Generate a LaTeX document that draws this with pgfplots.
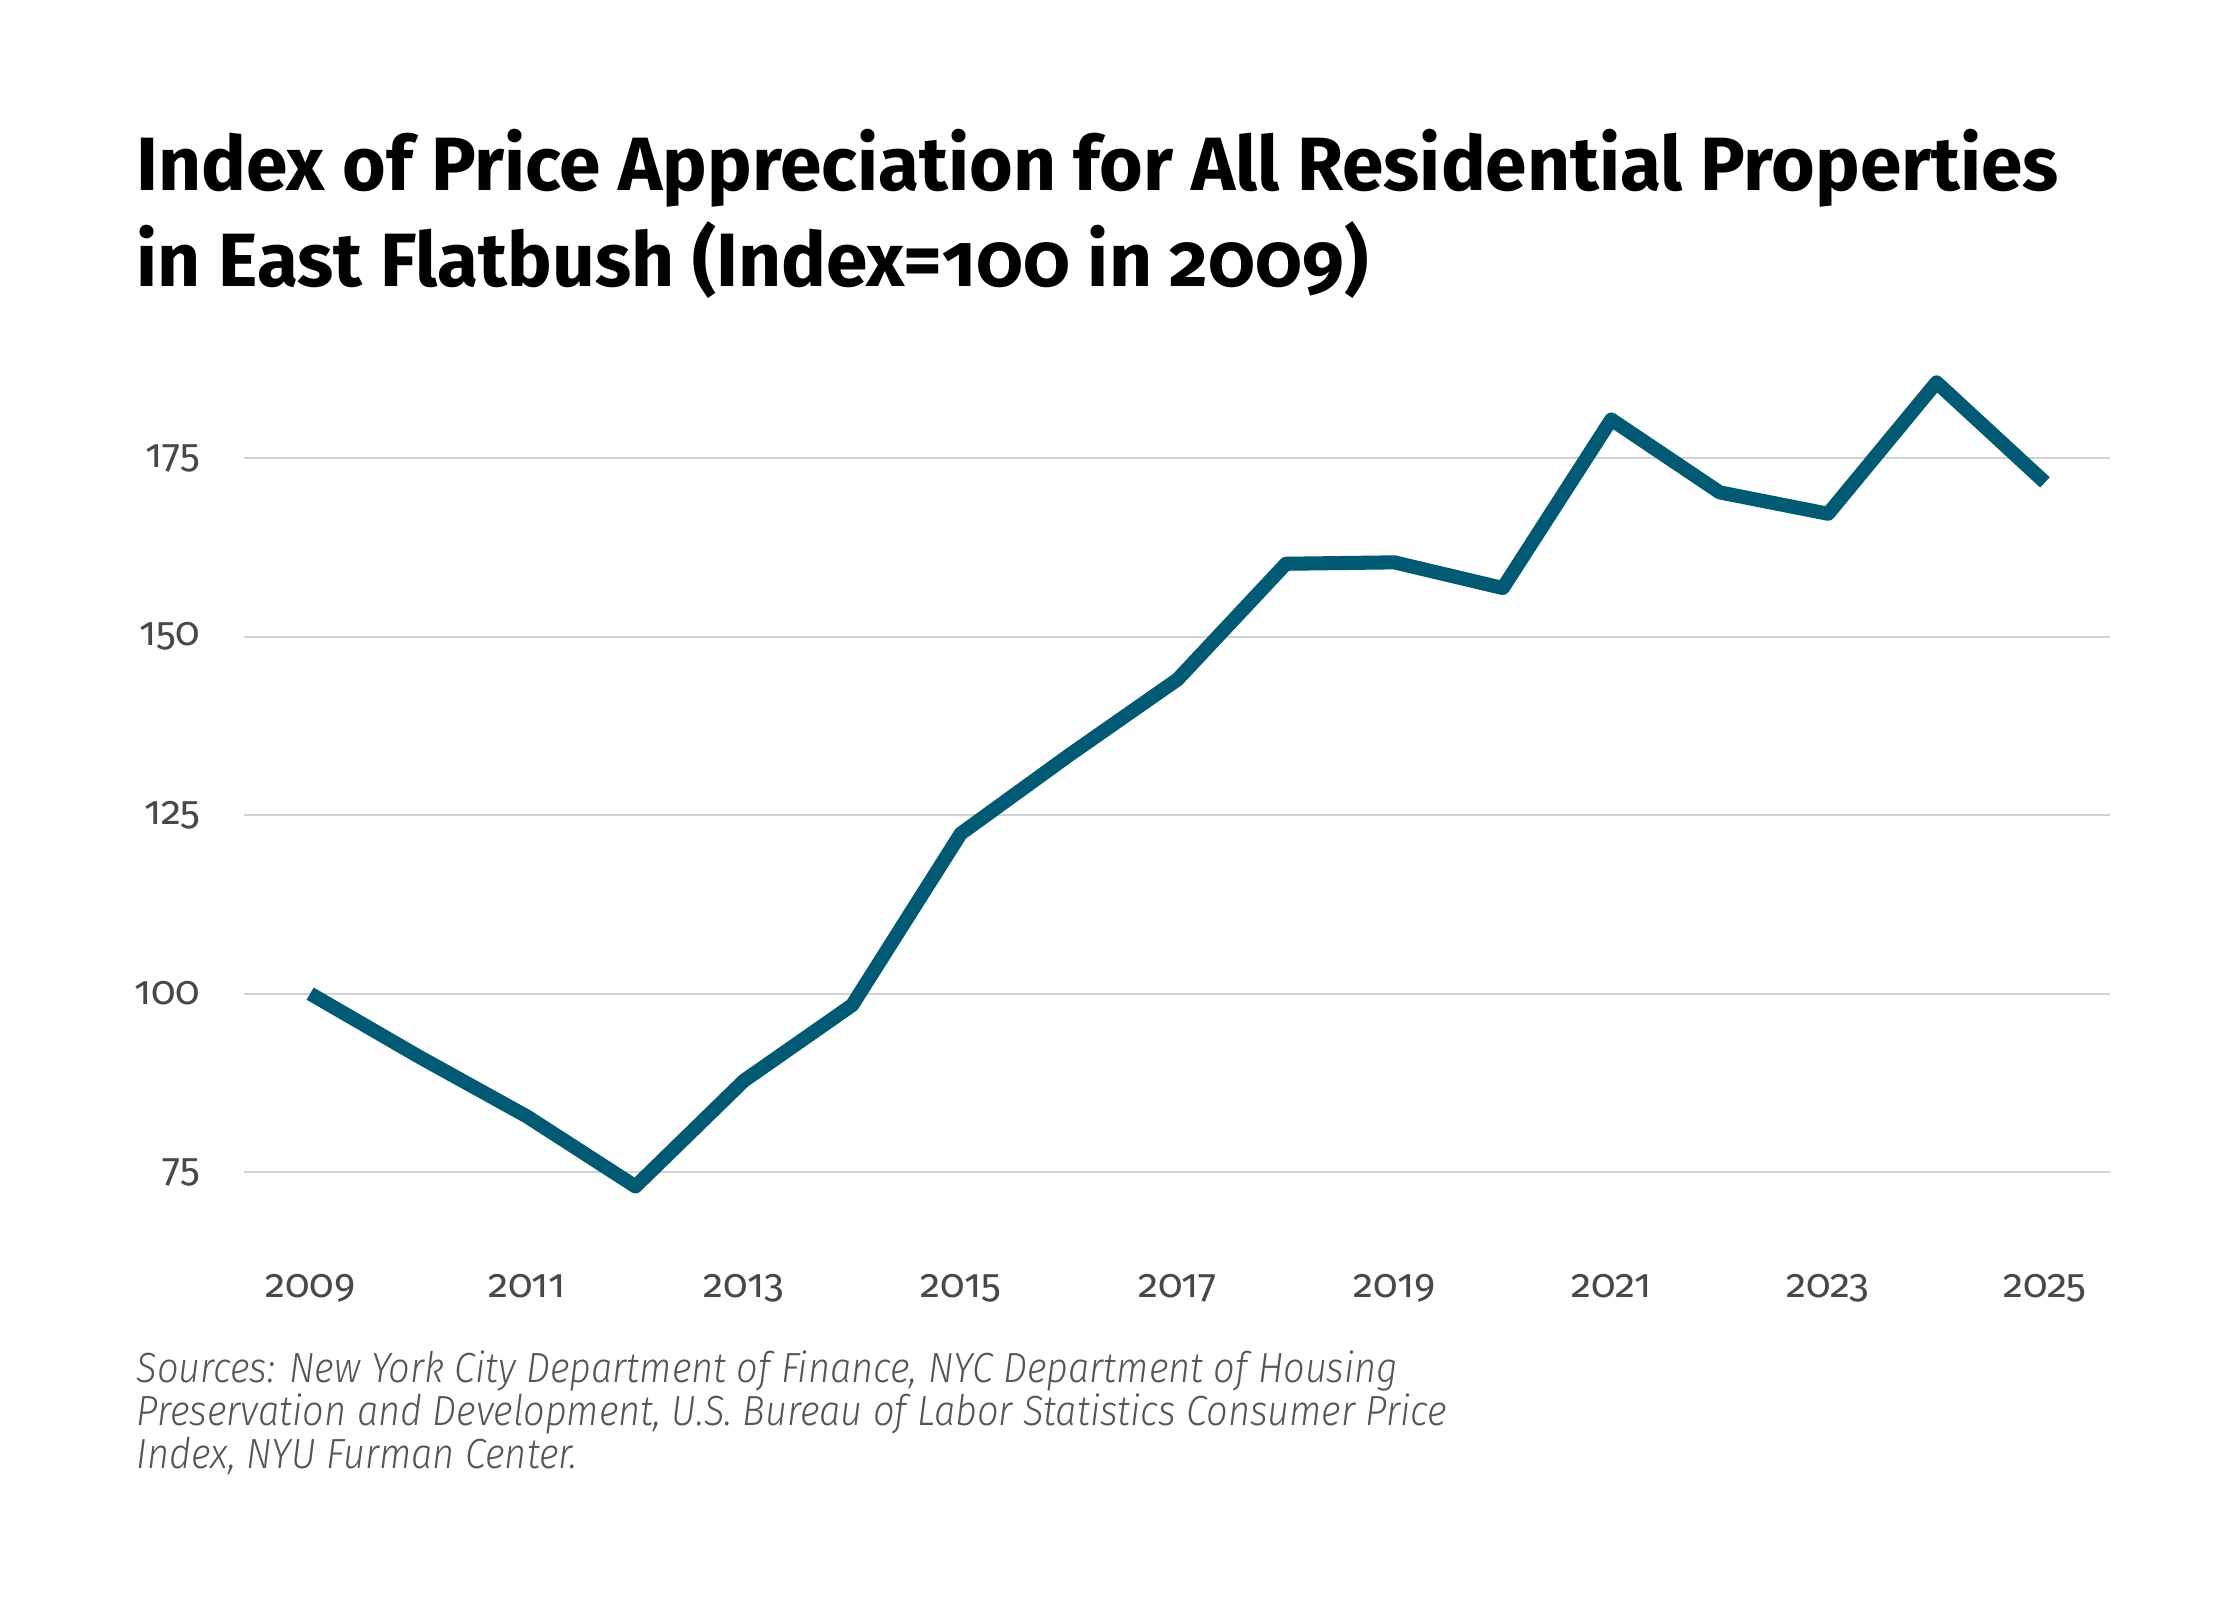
\documentclass[border=0pt]{standalone}
\usepackage{fontspec}
\setmainfont{Fira Sans}[Numbers=OldStyle]
\newfontfamily\titlefont{Fira Sans Bold}[FakeStretch=0.99, Numbers=OldStyle]
\newfontfamily\srcfont{Fira Sans Light Italic}[FakeStretch=0.9]
\usepackage{pgfplots}
\pgfplotsset{compat=1.18}
\definecolor{linecol}{HTML}{005A74}
\definecolor{gridcol}{HTML}{D2D2D2}
\definecolor{tickcol}{HTML}{484848}
\definecolor{srccol}{HTML}{555555}
\begin{document}
\begin{tikzpicture}
\useasboundingbox (0,0) rectangle (22.4,16);
\node[anchor=base west, inner sep=0] at (1.36,14.09) {\titlefont\fontsize{21.5}{26}\selectfont Index of Price Appreciation for All Residential Properties};
\node[anchor=base west, inner sep=0] at (1.36,13.13) {\titlefont\fontsize{21.5}{26}\selectfont in East Flatbush (Index=100 in 2009)};
\begin{axis}[
  at={(2.44cm,3.35cm)}, anchor=south west,
  scale only axis, width=18.66cm, height=9.14cm,
  xmin=2008.39, xmax=2025.6, ymin=62, ymax=190,
  axis line style={draw=none},
  ymajorgrids, grid style={gridcol, line width=0.6pt},
  ytick={75,100,125,150,175}, yticklabels={75,100,125,150,175},
  xtick={2009,2011,2013,2015,2017,2019,2021,2023,2025},
  xticklabels={2009,2011,2013,2015,2017,2019,2021,2023,2025},
  major tick length=0pt, tick style={draw=none},
  every tick label/.append style={font=\fontsize{11.5}{13}\selectfont, text=tickcol, inner sep=0pt},
  yticklabel style={anchor=east, xshift=-0.43cm},
  xticklabel style={anchor=base, yshift=-0.33cm},
  clip=false,
]
\addplot[linecol, line width=4pt, line join=round] coordinates {
(2009,100) (2010,91.2) (2011,82.8) (2012,73) (2013,87.8) (2014,98.4)
(2015,122.4) (2016,133.4) (2017,144) (2018,160.2) (2019,160.4) (2020,156.8)
(2021,180.4) (2022,170.2) (2023,167.2) (2024,185.6) (2025,171.6)};
\end{axis}
\node[anchor=base west, inner sep=0, text=srccol] at (1.36,2.17) {\srcfont\fontsize{12}{14}\selectfont Sources: New York City Department of Finance, NYC Department of Housing};
\node[anchor=base west, inner sep=0, text=srccol] at (1.36,1.74) {\srcfont\fontsize{12}{14}\selectfont Preservation and Development, U.S. Bureau of Labor Statistics Consumer Price};
\node[anchor=base west, inner sep=0, text=srccol] at (1.36,1.31) {\srcfont\fontsize{12}{14}\selectfont Index, NYU Furman Center.};
\end{tikzpicture}
\end{document}
